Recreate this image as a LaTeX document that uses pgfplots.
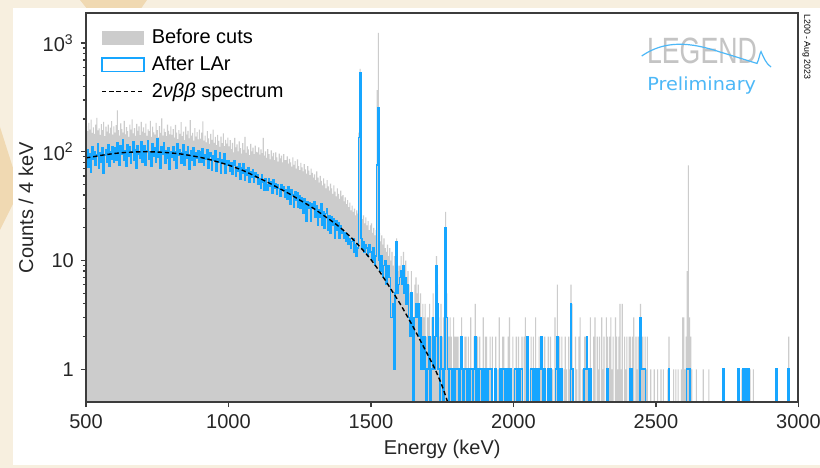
\documentclass[border=0pt]{standalone}
\usepackage{fontspec}
\setmainfont{Liberation Sans}
\newfontfamily\prelimfont{DejaVu Sans}
\usepackage{pgfplots}
\usepackage{pgfplotstable}
\pgfplotsset{compat=1.18}
\definecolor{bgcream}{HTML}{F7EFDF}
\definecolor{hextan}{HTML}{F0D9B2}
\definecolor{gfill}{HTML}{CCCCCC}
\definecolor{lblue}{HTML}{17A6FF}
\definecolor{axiscol}{HTML}{3C3C3C}
\definecolor{logogray}{HTML}{C4C4C4}
\definecolor{logoblue}{HTML}{4DB8F7}

\pgfplotstableread{
E g b
500 172 82
504 155 104
508 185 72
512 160 95
516 198 65
520 149 111
524 168 85
528 146 101
532 178 75
536 205 93
540 157 118
544 164 70
548 143 98
552 180 81
556 158 108
560 188 63
564 139 93
568 170 105
572 153 80
576 178 116
580 148 73
584 167 100
588 191 85
592 144 112
596 171 80
600 150 109
604 176 83
608 240 121
612 158 90
616 141 76
620 183 113
624 162 95
628 150 130
632 192 83
636 145 102
640 169 74
644 155 117
648 137 92
652 178 110
656 160 78
660 199 99
664 148 123
668 165 84
672 140 105
676 181 71
680 156 113
684 171 95
688 142 87
692 188 124
696 153 81
700 168 94
704 149 114
708 182 76
712 140 103
716 161 127
720 155 86
724 193 100
728 137 74
732 170 118
736 151 92
740 144 108
744 185 81
748 158 132
752 136 89
756 172 99
760 149 71
764 203 112
768 141 96
772 163 122
776 152 78
780 139 103
784 178 88
788 156 108
792 145 69
796 171 100
800 143 89
804 162 110
808 135 83
812 177 100
816 150 70
820 131 118
824 158 93
828 146 104
832 187 79
836 139 97
840 153 116
844 128 76
848 170 99
852 144 88
856 156 110
860 133 69
864 196 93
868 141 103
872 149 83
876 127 108
880 165 75
884 138 98
888 152 88
892 130 103
896 160 81
900 132 99
904 150 81
908 190 106
912 127 76
916 141 93
920 122 86
924 155 104
928 133 70
932 118 91
936 146 98
940 129 68
944 160 91
948 121 83
952 137 103
956 115 66
960 143 87
964 126 80
968 111 98
972 138 64
976 120 84
980 148 78
984 113 95
988 129 64
992 119 82
996 135 75
1000 112 83
1004 128 67
1008 106 79
1012 121 62
1016 99 75
1020 134 83
1024 110 60
1028 117 73
1032 101 67
1036 125 78
1040 108 56
1044 96 71
1048 120 64
1052 104 77
1056 137 55
1060 98 68
1064 112 61
1068 105 72
1072 93 52
1076 118 65
1080 101 59
1084 109 69
1088 95 52
1092 114 64
1096 100 58
1100 99 61
1104 110 50
1108 94 57
1112 105 46
1116 97 61
1120 134 53
1124 92 44
1128 101 57
1132 88 50
1136 106 44
1140 95 57
1144 85 48
1148 103 53
1152 91 42
1156 98 55
1160 84 46
1164 99 51
1168 89 41
1172 81 50
1176 96 46
1180 87 39
1184 92 50
1188 80 44
1192 95 48
1196 84 38
1200 84 45
1204 91 37
1208 78 48
1212 86 41
1216 80 33
1220 73 45
1224 89 40
1228 76 31
1232 82 43
1236 70 36
1240 85 42
1244 74 31
1248 68 39
1252 79 30
1256 72 38
1260 66 27
1264 77 37
1268 69 33
1272 63 23
1276 74 35
1280 67 30
1284 61 34
1288 70 23
1292 64 33
1296 58 30
1300 62 35
1304 55 25
1308 66 32
1312 58 21
1316 52 29
1320 60 25
1324 54 33
1328 49 21
1332 57 28
1336 51 20
1340 46 27
1344 55 30
1348 48 19
1352 44 26
1356 51 18
1360 46 25
1364 41 21
1368 49 24
1372 43 16
1376 39 23
1380 46 19
1384 41 22
1388 37 16
1392 44 21
1396 39 18
1400 40 19
1404 35 16
1408 38 18
1412 33 15
1416 36 17
1420 31 14
1424 34 16
1428 29 13
1432 32 15
1436 28 16
1440 30 12
1444 26 14
1448 29 11
1452 27 13
1456 150 135
1460 580 530
1464 30 16
1468 24 13
1472 26 15
1476 22 12
1480 25 14
1484 21 13
1488 23 11
1492 19 14
1496 21 12
1500 22 12
1504 18 10
1508 20 13
1512 17 9
1516 19 11
1520 370 76
1524 1240 254
1528 18 10
1532 15 8
1536 17 11
1540 14 7
1544 16 9
1548 13 10
1552 12 6
1556 14 8
1560 11 9
1564 13 7
1568 10 3
1572 12 3
1576 9 4
1580 11 1
1584 10 5
1588 16 15
1592 8 5
1596 9 6
1600 9 7
1604 11 8
1608 8 6
1612 12 9
1616 7 5
1620 10 7
1624 7 4
1628 8 6
1632 6 3
1636 5 2
1640 8 5
1644 5 2
1648 3 0
1652 6 3
1656 7 4
1660 5 3
1664 6 4
1668 4 2
1672 5 3
1676 3 1
1680 4 2
1684 3 1
1688 4 2
1692 2 0
1696 3 1
1700 3 1
1704 4 2
1708 2 0
1712 3 1
1716 5 3
1720 2 1
1724 3 2
1728 11 9
1732 6 4
1736 3 1
1740 2 0
1744 4 2
1748 2 1
1752 3 0
1756 2 1
1760 28 20
1764 5 3
1768 3 1
1772 2 0
1776 3 1
1780 2 1
1784 1 0
1788 3 1
1792 2 0
1796 2 1
1800 2 1
1804 2 1
1808 0 0
1812 2 1
1816 3 2
1820 1 1
1824 1 0
1828 2 1
1832 2 1
1836 0 0
1840 2 1
1844 1 0
1848 3 1
1852 1 1
1856 0 0
1860 2 1
1864 4 2
1868 0 0
1872 2 1
1876 1 0
1880 2 1
1884 1 1
1888 0 0
1892 3 1
1896 1 0
1900 2 1
1904 2 1
1908 0 0
1912 1 1
1916 2 1
1920 1 1
1924 2 0
1928 0 0
1932 1 0
1936 2 1
1940 0 0
1944 1 0
1948 3 0
1952 1 1
1956 0 0
1960 2 1
1964 2 1
1968 1 0
1972 1 1
1976 0 0
1980 2 1
1984 3 0
1988 1 1
1992 0 0
1996 2 0
2000 1 0
2004 1 1
2008 2 1
2012 0 0
2016 2 1
2020 1 0
2024 1 1
2028 2 1
2032 0 0
2036 2 0
2040 3 0
2044 0 0
2048 2 2
2052 1 0
2056 0 0
2060 2 1
2064 1 1
2068 2 0
2072 1 1
2076 3 1
2080 0 0
2084 1 1
2088 2 0
2092 1 1
2096 2 2
2100 2 1
2104 0 0
2108 2 1
2112 1 0
2116 0 0
2120 2 1
2124 1 0
2128 2 1
2132 0 0
2136 1 0
2140 0 0
2144 3 0
2148 1 1
2152 6 2
2156 1 0
2160 2 1
2164 0 0
2168 2 1
2172 0 0
2176 1 0
2180 2 0
2184 1 0
2188 0 0
2192 2 0
2196 1 0
2200 6 4
2204 4 1
2208 1 0
2212 0 0
2216 2 0
2220 1 0
2224 0 0
2228 2 0
2232 3 0
2236 0 0
2240 1 0
2244 0 0
2248 2 1
2252 2 1
2256 2 2
2260 1 1
2264 0 0
2268 3 1
2272 1 0
2276 0 0
2280 2 0
2284 3 0
2288 0 0
2292 2 0
2296 1 0
2300 2 0
2304 0 0
2308 3 0
2312 1 0
2316 2 0
2320 0 0
2324 3 0
2328 2 1
2332 0 0
2336 2 0
2340 3 0
2344 1 0
2348 2 0
2352 0 0
2356 3 0
2360 2 0
2364 1 0
2368 2 0
2372 4 0
2376 1 0
2380 4 0
2384 0 0
2388 2 0
2392 1 0
2396 2 0
2400 0 0
2404 2 0
2408 2 1
2412 1 1
2416 2 0
2420 3 0
2424 0 0
2428 2 0
2432 1 0
2436 2 0
2440 0 0
2444 4 3
2448 2 1
2452 2 1
2456 1 1
2460 2 1
2464 1 0
2468 2 0
2472 0 0
2476 0 0
2480 1 0
2484 0 0
2488 0 0
2492 1 0
2496 0 0
2500 0 0
2504 1 0
2508 0 0
2512 0 0
2516 1 0
2520 0 0
2524 1 0
2528 0 0
2532 0 0
2536 0 0
2540 1 0
2544 2 1
2548 0 0
2552 0 0
2556 0 0
2560 1 0
2564 0 0
2568 1 0
2572 0 0
2576 1 0
2580 0 0
2584 0 0
2588 1 0
2592 3 0
2596 3 0
2600 1 0
2604 2 0
2608 8 1
2612 75 1
2616 3 1
2620 2 0
2624 1 0
2628 0 0
2632 0 0
2636 0 0
2640 1 0
2644 0 0
2648 0 0
2652 0 0
2656 0 0
2660 0 0
2664 1 0
2668 0 0
2672 0 0
2676 0 0
2680 0 0
2684 1 0
2688 0 0
2692 0 0
2696 0 0
2700 0 0
2704 0 0
2708 0 0
2712 0 0
2716 0 0
2720 0 0
2724 0 0
2728 0 0
2732 0 0
2736 1 1
2740 0 0
2744 0 0
2748 0 0
2752 0 0
2756 0 0
2760 0 0
2764 0 0
2768 0 0
2772 0 0
2776 0 0
2780 0 0
2784 0 0
2788 1 1
2792 0 0
2796 0 0
2800 1 0
2804 1 1
2808 0 0
2812 1 1
2816 0 0
2820 1 0
2824 1 1
2828 1 0
2832 0 0
2836 0 0
2840 1 0
2844 0 0
2848 0 0
2852 0 0
2856 0 0
2860 0 0
2864 0 0
2868 0 0
2872 0 0
2876 0 0
2880 0 0
2884 0 0
2888 0 0
2892 0 0
2896 0 0
2900 0 0
2904 0 0
2908 0 0
2912 0 0
2916 0 0
2920 1 1
2924 0 0
2928 0 0
2932 0 0
2936 0 0
2940 0 0
2944 0 0
2948 0 0
2952 0 0
2956 0 0
2960 0 0
2964 2 1
2968 0 0
2972 0 0
2976 0 0
2980 0 0
2984 0 0
2988 0 0
2992 0 0
2996 0 0
3000 0 0
}\histdata

\pgfplotstableread{
E y
500 88
525 90
550 92.5
575 94.5
600 96.5
625 98
650 99
675 99.7
700 100
725 100
750 99.5
775 98.7
800 97.5
825 96
850 94
875 91.5
900 89
925 86
950 82.5
975 79
1000 75.5
1025 71.5
1050 67.5
1075 63
1100 58.5
1125 54.5
1150 50.5
1175 46.5
1200 43
1225 39.5
1250 36
1275 33
1300 30
1325 27
1350 24.3
1375 21.8
1400 19.3
1425 16.8
1450 14.4
1475 12.2
1500 10.2
1525 8.3
1550 6.6
1575 5.2
1600 4.1
1625 3.15
1650 2.4
1675 1.8
1700 1.35
1725 1.0
1750 0.7
1775 0.45
1800 0.3
}\curvedata

\begin{document}
\begin{tikzpicture}
% page background
\fill[bgcream] (-43bp,-33bp) rectangle (367bp,201bp);
\fill[hextan] (-43bp,137.5bp) -- (-33bp,106bp) -- (-43bp,86bp) -- cycle;
\fill[hextan] (-3bp,201bp) -- (30.5bp,201bp) -- (27bp,196bp) -- (1bp,196bp) -- cycle;
\fill[white] (-36.5bp,-31.5bp) rectangle (367bp,197bp);

\begin{axis}[
  at={(0,0)}, anchor=south west,
  scale only axis, width=356.2bp, height=194.5bp,
  ymode=log, log origin y=infty,
  xmin=500, xmax=3000, ymin=0.5, ymax=1890,
  axis on top,
  axis line style={draw=axiscol, line width=1bp},
  every tick/.style={draw=axiscol, line width=0.6bp},
  tick align=outside,
  major tick length=2.6bp, minor tick length=1.5bp,
  xtick pos=left, ytick pos=left,
  xtick={500,1000,1500,2000,2500,3000},
  xticklabels={500,1000,1500,2000,2500,3000},
  ytick={1,10,100,1000},
  yticklabels={1,10,10\textsuperscript{2},10\textsuperscript{3}},
  tick label style={font=\fontsize{10bp}{12bp}\selectfont, text=black!85},
  xlabel={Energy (keV)}, ylabel={Counts / 4 keV},
  label style={font=\fontsize{10bp}{12bp}\selectfont, text=black!85},
  xlabel style={at={(axis description cs:0.5,-0.121)}, anchor=center},
  ylabel style={at={(axis description cs:-0.0843,0.5)}, anchor=center},
  legend cell align=left,
  legend style={draw=none, fill=none, inner sep=0pt,
    at={(axis description cs:0.021,0.965)}, anchor=north west,
    font=\fontsize{10bp}{12bp}\selectfont, row sep=2.7bp,
    nodes={inner sep=1bp},
    /tikz/every odd column/.append style={column sep=2.5bp}},
]
\addplot[const plot, fill=gfill, draw=none,
  legend image code/.code={\fill[gfill] (0bp,-3.6bp) rectangle (21bp,3.6bp);}]
  table[x=E, y expr={max(\thisrow{g},0.01)}] {\histdata} \closedcycle;
\addlegendentry{Before cuts}
\addplot[const plot, draw=lblue, line width=0.8bp,
  legend image code/.code={\draw[lblue, line width=0.7bp, fill=white] (0bp,-3.4bp) rectangle (21bp,3.4bp);}]
  table[x=E, y expr={max(\thisrow{b},0.01)}] {\histdata};
\addlegendentry{After LAr}
\addplot[black, line width=0.7bp, dash pattern=on 2.2bp off 1.4bp, smooth,
  legend image code/.code={\draw[black, line width=0.7bp, dash pattern=on 2.2bp off 1.4bp] (0bp,0bp) -- (21bp,0bp);}]
  table[x=E, y=y] {\curvedata};
\addlegendentry{2\textit{νββ} spectrum}
\end{axis}

% logo
\node[anchor=base, inner sep=0pt, text=logogray, xscale=0.73, font=\fontsize{18.3bp}{20bp}\selectfont] at (308bp,169bp) {LEGEND};
\draw[logoblue, line width=0.6bp] (277.85bp,173bp) .. controls (289.5bp,181bp) and (302bp,180bp) .. (317bp,175bp)
  .. controls (327bp,172bp) and (333bp,170bp) .. (335.5bp,169.3bp)
  .. controls (336.5bp,171bp) and (337bp,175bp) .. (337.5bp,175.2bp)
  .. controls (338.5bp,173bp) and (340bp,169bp) .. (342.5bp,167.5bp);
\node[anchor=base, inner sep=0pt, text=logoblue, xscale=1.07, font=\prelimfont\fontsize{9bp}{11bp}\selectfont] at (307.85bp,155.5bp) {Preliminary};
\node[rotate=-90, inner sep=0pt, font=\fontsize{4.4bp}{5bp}\selectfont] at (360.25bp,177.5bp) {L200 - Aug 2023};

\pgfresetboundingbox
\path[use as bounding box] (-43bp,-33bp) rectangle (367bp,201bp);
\end{tikzpicture}
\end{document}
